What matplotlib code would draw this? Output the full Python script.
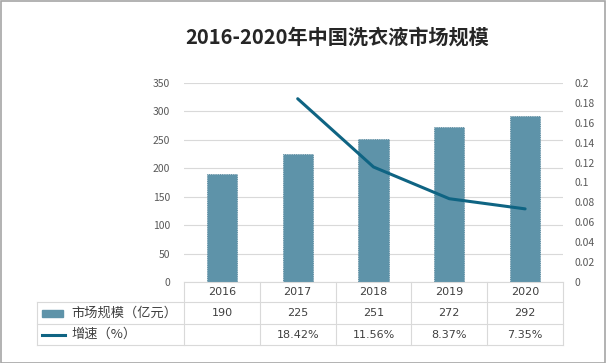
import matplotlib.pyplot as plt
from matplotlib.patches import Rectangle
from matplotlib.lines import Line2D

plt.rcParams['font.family'] = ['Noto Sans CJK SC', 'DejaVu Sans']

# data
years = ['2016', '2017', '2018', '2019', '2020']
market_size = [190, 225, 251, 272, 292]          # 亿元
growth = [None, 0.1842, 0.1156, 0.0837, 0.0735]
growth_labels = ['', '18.42%', '11.56%', '8.37%', '7.35%']
size_name = '市场规模（亿元）'
growth_name = '增速（%）'
title = '2016-2020年中国洗衣液市场规模'

bar_color = '#5E93A9'
line_color = '#0F6483'
grid_color = '#D9D9D9'
tick_color = '#595959'
text_color = '#404040'

W, H = 606, 363
fig = plt.figure(figsize=(W / 100, H / 100), dpi=100)

# plot area in pixels
left, right, top, bottom = 184, 563, 83, 282
ax = fig.add_axes([left / W, 1 - bottom / H, (right - left) / W, (bottom - top) / H])

x = list(range(len(years)))
ax.bar(x, market_size, width=0.4, color=bar_color, edgecolor='#4E7F95',
       linewidth=0.6, linestyle=':', zorder=2)
ax.set_xlim(-0.5, len(years) - 0.5)
ax.set_ylim(0, 350)
ax.set_yticks(range(0, 351, 50))
ax.grid(axis='y', color=grid_color, linewidth=0.8, zorder=0)
ax.set_xticks([])
for s in ['left', 'right', 'top', 'bottom']:
    ax.spines[s].set_visible(False)
ax.tick_params(axis='y', length=0, labelsize=7.5, labelcolor=tick_color, pad=10)

ax2 = ax.twinx()
gx = [i for i, g in enumerate(growth) if g is not None]
gy = [g for g in growth if g is not None]
ax2.plot(gx, gy, color=line_color, linewidth=2.2, solid_capstyle='round', zorder=3)
ax2.set_ylim(0, 0.2)
ax2.set_yticks([i * 0.02 for i in range(11)])
ax2.set_yticklabels(['%g' % round(i * 0.02, 2) for i in range(11)])
for s in ['left', 'right', 'top', 'bottom']:
    ax2.spines[s].set_visible(False)
ax2.tick_params(axis='y', length=0, labelsize=7.5, labelcolor=tick_color, pad=8)

# data table under the plot (x in data units, y in axes fraction)
tr = ax.get_xaxis_transform()
ph = bottom - top
r0, r1, r2, r3 = 0, -20 / ph, -42 / ph, -63 / ph
px_per_unit = (right - left) / len(years)
label_left = -0.5 - (left - 37) / px_per_unit

lw = 0.8
ax.add_line(Line2D([-0.5, 4.5], [r0, r0], transform=tr, color=grid_color, lw=lw, clip_on=False))
for yy in (r1, r2, r3):
    ax.add_line(Line2D([label_left, 4.5], [yy, yy], transform=tr, color=grid_color, lw=lw, clip_on=False))
for i in range(len(years) + 1):
    ax.add_line(Line2D([i - 0.5, i - 0.5], [r0, r3], transform=tr, color=grid_color, lw=lw, clip_on=False))
ax.add_line(Line2D([label_left, label_left], [r1, r3], transform=tr, color=grid_color, lw=lw, clip_on=False))

fs = 8
for i, yr in enumerate(years):
    ax.text(i, (r0 + r1) / 2, yr, transform=tr, ha='center', va='center',
            fontsize=fs, color=text_color, family=['DejaVu Sans'])
    ax.text(i, (r1 + r2) / 2, str(market_size[i]), transform=tr, ha='center', va='center',
            fontsize=fs, color=text_color, family=['DejaVu Sans'])
    ax.text(i, (r2 + r3) / 2, growth_labels[i], transform=tr, ha='center', va='center',
            fontsize=fs, color=text_color, family=['DejaVu Sans'])

# legend keys in the first column
sw0 = label_left + 5 / px_per_unit
sw1 = label_left + 26 / px_per_unit
ax.add_patch(Rectangle((sw0, (r1 + r2) / 2 - 3.5 / ph), sw1 - sw0, 7 / ph, transform=tr,
                       color=bar_color, clip_on=False))
ax.add_line(Line2D([sw0, sw1 + 2 / px_per_unit], [(r2 + r3) / 2] * 2, transform=tr,
                   color=line_color, lw=2.2, clip_on=False))
tx = label_left + 34 / px_per_unit
ax.text(tx, (r1 + r2) / 2, size_name, transform=tr, ha='left', va='center',
        fontsize=9.5, color=text_color)
ax.text(tx, (r2 + r3) / 2, growth_name, transform=tr, ha='left', va='center',
        fontsize=9.5, color=text_color)

fig.text(337 / W, 1 - 37 / H, title, ha='center', va='center', fontsize=14.5,
         fontweight='bold', color='#262626')

# outer frame
fig.add_artist(Rectangle((0.5 / W, 0.5 / H), 1 - 1.5 / W, 1 - 1.5 / H, transform=fig.transFigure,
                         fill=False, edgecolor='#A6A6A6', linewidth=1.2))

fig.savefig('out.png', dpi=100)
